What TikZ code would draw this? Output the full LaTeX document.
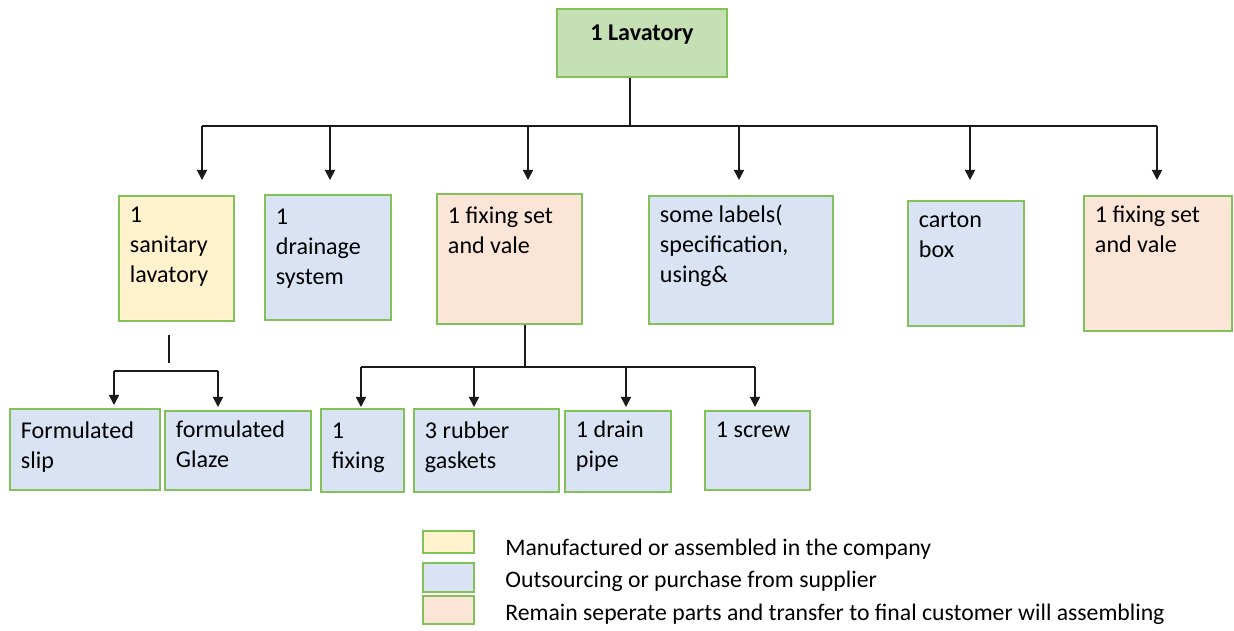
\documentclass[tikz,border=0pt]{standalone}
\usepackage{fontspec}
\setmainfont{Carlito}
\usetikzlibrary{arrows.meta}
\newlength\pu
\setlength\pu{0.02cm}
\definecolor{grnfill}{HTML}{C5E0B4}
\definecolor{grnline}{HTML}{82C05A}
\definecolor{yelfill}{HTML}{FFF2CC}
\definecolor{blufill}{HTML}{DAE3F3}
\definecolor{pchfill}{HTML}{FBE5D6}
\definecolor{linec}{HTML}{1A1A1A}
\newcommand{\btext}[3]{\parbox[t][#2\pu][t]{#1\pu}{\fontsize{13.7}{17}\selectfont\strut #3}}
\tikzset{
  bx/.style={draw=grnline, line width=1.1pt, rectangle, inner xsep=11\pu, inner ysep=6\pu, anchor=north west, align=left},
  conn/.style={draw=linec, line width=0.85pt},
  arr/.style={conn, -{Triangle[width=5.7pt,length=5.7pt]}},
  sw/.style={draw=grnline, line width=1.1pt, rectangle, inner sep=0pt, anchor=north west, minimum width=51\pu},
  lg/.style={anchor=base west, inner sep=0pt, font=\fontsize{13.5}{15}\selectfont}
}
\begin{document}
\begin{tikzpicture}[x=0.02cm, y=-0.02cm]
\useasboundingbox (0,0) rectangle (1234,630);
% top
\node[bx, fill=grnfill, inner xsep=0pt] (top) at (556,8) {\parbox[t][56\pu][t]{170\pu}{\centering\fontsize{13.7}{17}\selectfont\bfseries\rule{0pt}{26\pu}1 Lavatory}};
% second row
\node[bx, fill=yelfill] (san) at (118,195) {\btext{93}{113}{1\\sanitary\\lavatory}};
\node[bx, fill=blufill] (drn) at (264,194) {\btext{104}{113}{\rule{0pt}{24\pu}1\\drainage\\system}};
\node[bx, fill=pchfill] (fix) at (436,193) {\btext{123}{118}{\rule{0pt}{24\pu}1 fixing set\\and vale}};
\node[bx, fill=blufill] (lab) at (648,195) {\btext{162}{116}{some labels(\\specification,\\using\&}};
\node[bx, fill=blufill] (box) at (907,200) {\btext{94}{113}{carton\\box}};
\node[bx, fill=pchfill] (fix2) at (1083,195) {\btext{126}{123}{1 fixing set\\and vale}};
% third row
\node[bx, fill=blufill] (slip) at (9,408) {\btext{128}{69}{\rule{0pt}{24\pu}Formulated\\slip}};
\node[bx, fill=blufill] (glz) at (164,410) {\btext{124}{67}{formulated\\Glaze}};
\node[bx, fill=blufill] (fx1) at (320,408) {\btext{61}{71}{\rule{0pt}{24\pu}1\\fixing}};
\node[bx, fill=blufill] (gsk) at (413,408) {\btext{123}{71}{\rule{0pt}{24\pu}3 rubber\\gaskets}};
\node[bx, fill=blufill] (pipe) at (564,410) {\btext{84}{69}{1 drain\\pipe}};
\node[bx, fill=blufill] (scr) at (704,410) {\btext{83}{67}{1 screw}};
% connectors top
\coordinate (bus) at (630,126);
\draw[conn] (top.south -| bus) -- (bus);
\draw[conn] (202,126) -- (1157,126);
\foreach \xx/\nn/\sh in {202/san/15,330/drn/14,528/fix/13,739/lab/15,970/box/20,1157/fix2/15}{
  \draw[arr, shorten >=\sh\pu] (\xx,126) -- (\xx,0 |- \nn.north);
}
% connectors sanitary
\coordinate (sb) at (169,335);
\draw[conn] (sb) -- (169,363);
\draw[conn] (114,371) -- (218,371);
\draw[arr, shorten >=3\pu] (114,371) -- (114,0 |- slip.north);
\draw[arr, shorten >=3\pu] (218,371) -- (218,0 |- glz.north);
% connectors fixing set
\draw[conn] (fix.south -| 525,0) -- (525,367);
\draw[conn] (361,367) -- (755,367);
\draw[arr, shorten >=1\pu] (361,367) -- (361,0 |- fx1.north);
\draw[arr, shorten >=1\pu] (474,367) -- (474,0 |- gsk.north);
\draw[arr, shorten >=3\pu] (626,367) -- (626,0 |- pipe.north);
\draw[arr, shorten >=3\pu] (755,367) -- (755,0 |- scr.north);
% legend
\node[sw, fill=yelfill, minimum height=22\pu] (s1) at (422,530) {};
\node[sw, fill=blufill, minimum height=29\pu] (s2) at (422,562) {};
\node[sw, fill=pchfill, minimum height=28\pu] (s3) at (422,595) {};
\node[lg] (l1) at (505,555) {Manufactured or assembled in the company};
\node[lg] (l2) at (505,587) {Outsourcing or purchase from supplier};
\node[lg] (l3) at (505,620) {Remain seperate parts and transfer to final customer will assembling};
\end{tikzpicture}
\end{document}
